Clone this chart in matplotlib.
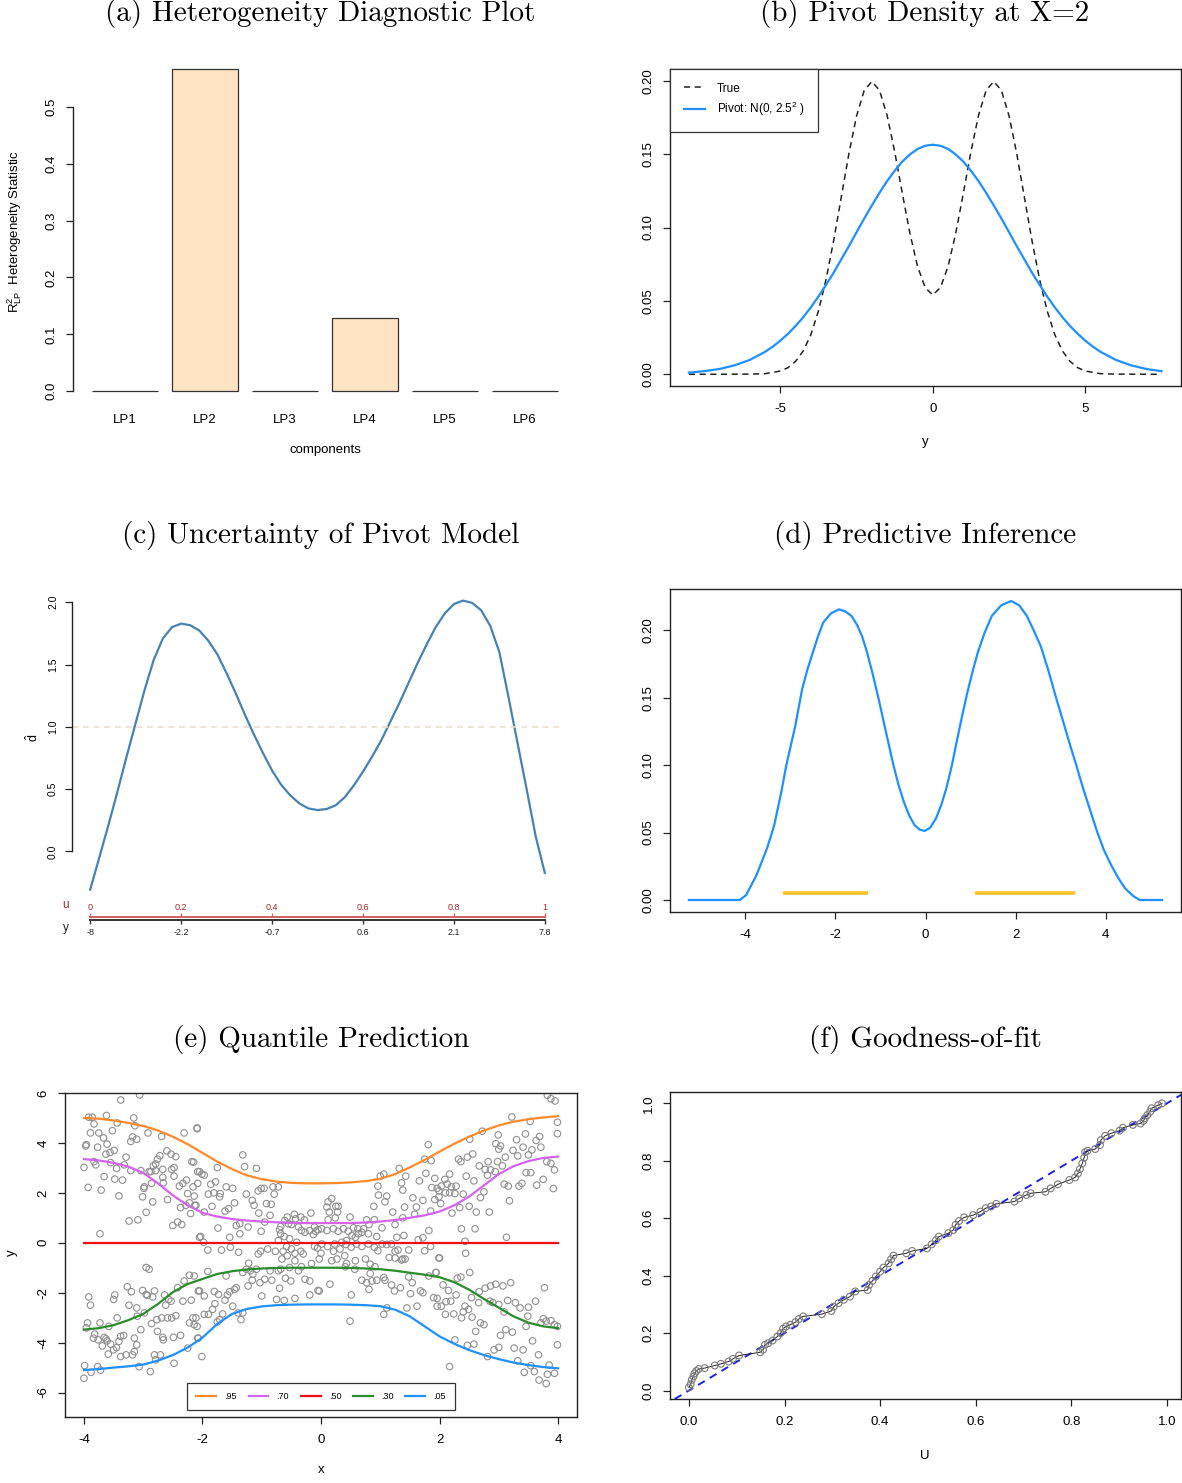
import numpy as np
import matplotlib
matplotlib.use('Agg')
import matplotlib.pyplot as plt

plt.rcParams['font.family'] = ['Liberation Sans', 'DejaVu Sans']
plt.rcParams['mathtext.fontset'] = 'custom'
plt.rcParams['mathtext.rm'] = 'Liberation Sans'
plt.rcParams['mathtext.it'] = 'Liberation Sans:italic'
plt.rcParams['mathtext.bf'] = 'Liberation Sans:bold'
plt.rcParams['axes.unicode_minus'] = False

# ---------------- data ----------------
# (a) heterogeneity statistic
a_labels = ['LP1', 'LP2', 'LP3', 'LP4', 'LP5', 'LP6']
a_values = [0.0, 0.567, 0.0, 0.1285, 0.0, 0.0]

# (b) true density and pivot density
b_x = [-8, -7, -6, -5.5, -5, -4.75, -4.5, -4.25, -4, -3.75, -3.5, -3.25, -3, -2.75, -2.5, -2.25,
       -2, -1.75, -1.5, -1.25, -1, -0.75, -0.5, -0.25, 0, 0.25, 0.5, 0.75, 1, 1.25, 1.5, 1.75,
       2, 2.25, 2.5, 2.75, 3, 3.25, 3.5, 3.75, 4, 4.25, 4.5, 4.75, 5, 5.5, 6, 7, 7.5]
b_true = [0.0, 0.0, 0.0001, 0.0004, 0.0022, 0.0045, 0.0088, 0.0159, 0.0270, 0.0432, 0.0648, 0.0913,
          0.1210, 0.1506, 0.1761, 0.1934, 0.1995, 0.1935, 0.1765, 0.1516, 0.1232, 0.0959, 0.0735,
          0.0590, 0.0540, 0.0590, 0.0735, 0.0959, 0.1232, 0.1516, 0.1765, 0.1935, 0.1995, 0.1934,
          0.1761, 0.1506, 0.1210, 0.0913, 0.0648, 0.0432, 0.0270, 0.0159, 0.0088, 0.0045, 0.0022,
          0.0004, 0.0001, 0.0, 0.0]
b_px = [-8, -7.5, -7, -6.5, -6, -5.5, -5.25, -5, -4.75, -4.5, -4.25, -4, -3.75, -3.5, -3.25, -3,
        -2.75, -2.5, -2.25, -2, -1.75, -1.5, -1.25, -1, -0.75, -0.5, -0.25, 0, 0.25, 0.5, 0.75, 1,
        1.25, 1.5, 1.75, 2, 2.25, 2.5, 2.75, 3, 3.25, 3.5, 3.75, 4, 4.25, 4.5, 4.75, 5, 5.25, 5.5,
        6, 6.5, 7, 7.5]
b_pivot = [0.0011, 0.0021, 0.0036, 0.0061, 0.0098, 0.0153, 0.0188, 0.0229, 0.0276, 0.0329, 0.0389,
           0.0456, 0.0530, 0.0610, 0.0693, 0.0784, 0.0874, 0.0968, 0.1061, 0.1150, 0.1236, 0.1316,
           0.1387, 0.1449, 0.1498, 0.1535, 0.1557, 0.1564, 0.1557, 0.1535, 0.1498, 0.1449, 0.1387,
           0.1316, 0.1236, 0.1150, 0.1061, 0.0968, 0.0874, 0.0784, 0.0693, 0.0610, 0.0530, 0.0456,
           0.0389, 0.0329, 0.0276, 0.0229, 0.0188, 0.0153, 0.0098, 0.0061, 0.0036, 0.0021]

# (c) comparison density d(u)
c_u = [0.00, 0.02, 0.04, 0.06, 0.08, 0.10, 0.12, 0.14, 0.16, 0.18, 0.20, 0.22, 0.24, 0.26, 0.28,
       0.30, 0.32, 0.34, 0.36, 0.38, 0.40, 0.42, 0.44, 0.46, 0.48, 0.50, 0.52, 0.54, 0.56, 0.58,
       0.60, 0.62, 0.64, 0.66, 0.68, 0.70, 0.72, 0.74, 0.76, 0.78, 0.80, 0.82, 0.84, 0.86, 0.88,
       0.90, 0.92, 0.94, 0.96, 0.98, 1.00]
c_d = [-0.307, -0.05, 0.21, 0.48, 0.76, 1.03, 1.30, 1.54, 1.71, 1.80, 1.828, 1.815, 1.773, 1.69,
       1.58, 1.43, 1.27, 1.10, 0.94, 0.79, 0.65, 0.535, 0.45, 0.385, 0.345, 0.332, 0.34, 0.37,
       0.435, 0.53, 0.64, 0.76, 0.89, 1.04, 1.19, 1.35, 1.51, 1.66, 1.80, 1.91, 1.985, 2.013,
       1.995, 1.935, 1.81, 1.60, 1.24, 0.87, 0.50, 0.12, -0.173]
c_u_ticks = [0, 0.2, 0.4, 0.6, 0.8, 1]
c_u_labels = ['0', '0.2', '0.4', '0.6', '0.8', '1']
c_y_labels = ['-8', '-2.2', '-0.7', '0.6', '2.1', '7.8']

# (d) predictive density and intervals
d_x = [-5.25, -4.12, -3.98, -3.75, -3.52, -3.36, -3.20, -3.09, -2.89, -2.74, -2.62, -2.50, -2.38,
       -2.27, -2.10, -1.92, -1.78, -1.64, -1.52, -1.41, -1.30, -1.18, -1.06, -0.94, -0.82, -0.71,
       -0.60, -0.48, -0.36, -0.24, -0.13, -0.02, 0.10, 0.23, 0.35, 0.46, 0.58, 0.69, 0.81, 0.93,
       1.05, 1.16, 1.31, 1.47, 1.68, 1.90, 2.08, 2.25, 2.40, 2.56, 2.72, 2.88, 3.04, 3.19, 3.35,
       3.50, 3.66, 3.81, 3.96, 4.12, 4.28, 4.43, 4.60, 4.75, 5.25]
d_y = [0.0, 0.0, 0.0037, 0.0185, 0.038, 0.055, 0.080, 0.0998, 0.129, 0.156, 0.171, 0.1835, 0.196,
       0.2057, 0.2125, 0.2155, 0.2140, 0.2106, 0.204, 0.1958, 0.184, 0.1687, 0.152, 0.134, 0.116,
       0.0998, 0.0855, 0.0727, 0.0625, 0.0554, 0.0522, 0.0512, 0.0535, 0.0603, 0.0705, 0.0825,
       0.0990, 0.117, 0.136, 0.154, 0.170, 0.1835, 0.198, 0.2106, 0.2185, 0.2217, 0.2185, 0.2106,
       0.200, 0.188, 0.171, 0.152, 0.134, 0.117, 0.0995, 0.0825, 0.066, 0.0505, 0.037, 0.0259,
       0.0162, 0.0086, 0.0032, 0.0, 0.0]
d_int_lo = [-3.16, 1.10]
d_int_hi = [-1.28, 3.32]
d_int_level = 0.005

# (e) quantile curves
e_grid = [-4, -3.75, -3.5, -3.25, -3, -2.75, -2.5, -2.25, -2, -1.75, -1.5, -1.25, -1, -0.75, -0.5,
          -0.25, 0, 0.25, 0.5, 0.75, 1, 1.25, 1.5, 1.75, 2, 2.25, 2.5, 2.75, 3, 3.25, 3.5, 3.75, 4]
e_q95 = [5.0, 4.97, 4.9, 4.8, 4.68, 4.5, 4.25, 3.95, 3.6, 3.25, 2.95, 2.7, 2.55, 2.45, 2.4, 2.38,
         2.38, 2.39, 2.42, 2.47, 2.56, 2.75, 3.02, 3.32, 3.65, 3.97, 4.25, 4.5, 4.7, 4.85, 4.95,
         5.02, 5.07]
e_q70 = [3.35, 3.3, 3.2, 3.05, 2.8, 2.38, 1.9, 1.5, 1.2, 1.05, 0.95, 0.89, 0.85, 0.82, 0.8, 0.79,
         0.79, 0.79, 0.79, 0.81, 0.85, 0.91, 1.0, 1.1, 1.25, 1.5, 1.85, 2.3, 2.75, 3.07, 3.27, 3.4,
         3.45]
e_q50 = [0.0] * 33
e_q30 = [-3.48, -3.42, -3.3, -3.1, -2.85, -2.45, -1.98, -1.65, -1.45, -1.25, -1.14, -1.07, -1.03,
         -1.01, -1.0, -1.0, -1.0, -1.0, -1.01, -1.03, -1.06, -1.12, -1.2, -1.28, -1.38, -1.58,
         -1.88, -2.25, -2.6, -2.95, -3.2, -3.35, -3.42]
e_q05 = [-5.1, -5.06, -5.0, -4.95, -4.88, -4.72, -4.5, -4.2, -3.8, -3.25, -2.85, -2.65, -2.55,
         -2.5, -2.48, -2.47, -2.47, -2.47, -2.48, -2.5, -2.54, -2.68, -2.95, -3.35, -3.75, -4.05,
         -4.3, -4.5, -4.66, -4.8, -4.9, -4.98, -5.03]
e_levels = ['.95', '.70', '.50', '.30', '.05']

e_pts_a = [(-3.38,5.72),(-3.06,5.92),(-3.92,5.03),(-3.86,5.03),(-3.62,5.10),(-3.16,5.00),(-3.83,4.76),
 (-3.44,4.80),(-3.14,4.69),(-3.89,4.40),(-3.75,4.40),(-3.52,4.49),(-3.67,4.20),(-3.18,4.24),(-3.21,4.06),
 (-3.11,4.15),(-2.92,4.40),(-2.69,4.26),(-2.31,4.40),(-2.09,4.57),(-3.61,3.95),(-3.97,3.88),(-3.96,3.93),
 (-3.77,3.83),(-3.49,3.70),(-3.56,3.62),(-3.63,3.55),(-3.29,3.43),(-2.60,3.68),(-2.53,3.55),(-2.45,3.45),
 (-2.72,3.49),(-2.76,3.35),(-2.79,3.16),(-2.83,3.08),(-2.90,2.85),(-2.87,2.85),(-3.04,2.89),(-2.79,2.89),
 (-2.67,2.94),(-2.18,3.25),(-2.15,3.23),(-3.83,3.25),(-3.80,3.12),(-4.00,3.02),(-3.55,3.21),(-3.32,3.12),
 (-3.45,2.98),(-3.21,2.89),(-2.48,3.01),(-2.52,2.94),(-2.48,2.67),(-2.67,2.62),(-2.66,2.40),(-2.86,2.38),
 (-2.27,2.51),(-2.33,2.38),(-2.39,2.27),(-2.16,2.24),(-2.08,2.85),(-3.66,2.65),(-3.48,2.55),(-3.35,2.51),
 (-2.98,2.24),(-2.99,2.18),(-3.93,2.22),(-3.71,2.11),(-3.41,1.88),(-3.01,1.84),(-2.84,1.64),(-2.59,1.73),
 (-2.14,1.87),(-2.25,1.97),(-2.22,1.60),(-2.28,1.50),(-2.37,1.41),(-2.20,1.17),(-2.13,1.50),(-2.95,1.22),
 (-3.24,0.87),(-3.09,0.92),(-2.50,0.69),(-2.42,0.83),(-2.35,0.73),(-3.73,0.36),(-2.05,0.22),
 (-2.95,-0.99),(-2.90,-1.06),(-3.27,-1.76),(-3.20,-1.96),(-3.01,-1.91),(-2.95,-2.07),(-2.93,-2.11),
 (-2.81,-1.93),(-2.84,-2.17),(-3.48,-2.09),(-3.50,-2.27),(-3.92,-2.17),(-3.89,-2.50),(-3.24,-2.50),
 (-3.11,-2.61),(-2.62,-2.50),(-2.57,-2.27),(-2.53,-2.34),(-2.33,-2.34),(-2.19,-2.30),(-2.42,-1.80),
 (-2.31,-1.53),(-2.22,-1.30),(-2.14,-1.33),(-2.07,-1.93),(-2.64,-2.09),(-3.94,-3.21),(-3.96,-3.41),
 (-3.73,-3.21),(-3.58,-3.35),(-3.44,-3.01),(-3.10,-2.94),(-2.98,-2.81),(-3.04,-3.48),(-2.86,-3.24),
 (-2.77,-3.08),(-2.69,-3.01),(-2.59,-3.01),(-2.52,-3.01),(-2.45,-2.92),(-2.16,-3.01),(-2.14,-3.28),
 (-2.22,-3.21),(-3.82,-3.66),(-3.84,-3.82),(-3.76,-3.89),(-3.66,-3.79),(-3.63,-3.85),(-3.61,-3.93),
 (-3.69,-4.13),(-3.55,-4.06),(-3.45,-4.20),(-3.38,-3.75),(-3.33,-3.71),(-3.41,-3.95),(-3.15,-3.82),
 (-3.11,-4.09),(-3.15,-4.36),(-3.18,-4.49),(-3.38,-4.56),(-3.29,-4.49),(-3.59,-4.46),(-3.50,-4.29),
 (-2.76,-3.55),(-2.67,-3.79),(-2.66,-3.89),(-2.49,-3.79),(-2.37,-3.71),(-2.25,-4.22),(-2.08,-3.82),
 (-2.81,-4.49),(-2.71,-4.49),(-2.79,-4.69),(-3.99,-4.92),(-3.88,-5.19),(-3.77,-4.96),(-3.72,-5.10),
 (-3.07,-4.96),(-2.88,-5.16),(-4.00,-5.43),(-2.48,-4.83)]
e_pts_b = [(-2.09,4.60),(-1.32,3.52),(-1.29,3.05),(-1.09,2.98),(-1.75,3.01),(-2.05,2.85),(-2.01,2.75),
 (-1.97,2.71),(-2.08,2.38),(-1.86,2.34),(-1.78,2.44),(-1.60,2.24),(-1.49,2.18),(-1.90,1.95),(-1.81,2.00),
 (-1.70,1.97),(-1.71,1.84),(-1.26,1.95),(-1.06,2.08),(-1.01,2.18),(-0.96,2.18),(-0.81,2.24),(-0.72,2.24),
 (-0.79,1.95),(-1.46,1.60),(-1.16,1.70),(-1.13,1.50),(-0.92,1.57),(-0.84,1.54),(-2.11,1.50),(-1.97,1.23),
 (-1.84,1.46),(-1.62,1.27),(-1.56,1.37),(-1.05,1.19),(-0.86,1.10),(-0.95,0.83),(-1.37,0.76),(-1.43,0.69),
 (-1.23,0.63),(-1.74,0.59),(-1.37,0.36),(-1.54,0.22),(-1.01,0.46),(-0.68,0.65),(-0.70,0.52),(-0.61,0.89),
 (-0.57,1.03),(-0.45,1.14),(-0.34,1.03),(-0.28,0.92),(-0.17,1.19),(-0.43,0.96),(-0.55,0.76),(-0.50,0.73),
 (-0.38,0.63),(-0.33,0.49),(-0.27,0.42),(-0.19,0.49),(-0.11,0.63),(-0.09,0.46),(-0.13,0.33),(-0.68,0.36),
 (-0.62,0.25),(-0.72,0.09),(-0.53,0.16),(-0.41,0.02),(-2.03,0.25),(-1.98,0.02),(-1.91,-0.29),(-1.68,-0.29),
 (-1.53,-0.18),(-1.39,-0.38),(-1.06,-0.45),(-1.02,-0.34),(-0.90,-0.25),(-0.77,-0.34),(-0.64,-0.34),
 (-0.58,-0.15),(-0.50,-0.25),(-0.44,-0.42),(-0.34,-0.34),(-0.30,-0.45),(-0.66,-0.65),(-0.57,-0.52),
 (-0.44,-0.72),(-0.33,-0.96),(-0.16,-0.83),(-0.03,-0.65),(-0.11,-0.15),(-1.22,-0.82),(-1.26,-1.06),
 (-1.91,-1.15),(-1.60,-1.33),(-1.32,-1.19),(-1.19,-1.12),(-1.15,-1.26),(-1.09,-1.06),(-1.16,-1.50),
 (-1.23,-1.73),(-1.03,-1.60),(-0.95,-1.46),(-0.86,-1.12),(-0.83,-1.50),(-0.72,-1.12),(-0.68,-1.06),
 (-0.60,-1.42),(-0.51,-1.53),(-0.53,-0.99),(-0.38,-1.12),(-0.27,-1.46),(-0.19,-1.53),(-0.70,-1.82),
 (-1.00,-2.13),(-0.75,-2.27),(-0.62,-2.31),(-0.44,-2.23),(-0.19,-2.09),(-0.05,-1.91),(-2.05,-1.93),
 (-1.97,-2.13),(-1.80,-1.95),(-1.73,-2.07),(-1.58,-2.09),(-1.54,-1.96),(-1.46,-1.87),(-1.43,-1.80),
 (-1.62,-2.30),(-1.79,-2.44),(-1.83,-2.67),(-1.49,-2.54),(-1.97,-2.87),(-1.90,-2.87),(-2.11,-3.01),
 (-1.66,-2.85),(-1.71,-3.08),(-1.75,-3.17),(-1.40,-2.81),(-1.32,-2.81),(-1.35,-3.08),(-2.09,-3.35),
 (-2.07,-3.82),(-2.01,-4.56)]
e_pts_c = [(1.81,3.93),(1.75,3.35),(1.86,3.29),(1.32,2.98),(1.00,2.67),(1.06,2.75),(1.43,2.67),(1.77,2.78),
 (1.92,2.58),(1.36,2.40),(0.96,2.27),(1.38,2.11),(1.66,2.48),(1.87,2.21),(1.99,2.08),(0.97,1.91),(1.11,1.87),
 (1.08,1.64),(1.55,1.80),(1.72,1.70),(1.92,1.73),(1.41,1.43),(1.61,1.43),(0.89,1.46),(1.21,1.23),(1.38,1.00),
 (1.58,1.14),(1.85,1.27),(0.12,1.64),(0.18,1.77),(0.10,1.43),(0.14,1.23),(0.25,1.46),(0.29,1.46),(0.28,1.23),
 (0.49,1.03),(0.12,0.92),(0.24,1.00),(0.77,0.92),(0.81,0.73),(0.90,0.92),(1.03,0.60),(1.25,0.73),(1.40,0.29),
 (1.82,0.49),(-0.05,0.52),(0.01,0.56),(0.10,0.49),(0.21,0.56),(0.29,0.46),(0.38,0.56),(0.46,0.46),(0.55,0.60),
 (0.62,0.56),(0.69,0.42),(0.52,0.29),(0.58,0.22),(0.63,0.36),(0.72,0.56),(0.80,0.36),(0.94,0.25),(1.28,0.22),
 (0.43,0.09),(0.35,0.02),(0.01,-0.05),(-0.06,-0.21),(0.11,-0.15),(0.23,-0.05),(0.32,-0.25),(0.42,-0.07),
 (0.51,-0.18),(0.60,-0.05),(0.69,-0.15),(0.80,-0.05),(0.90,-0.18),(0.96,-0.32),(1.03,-0.05),(1.11,-0.07),
 (1.19,-0.05),(1.25,-0.34),(1.30,-0.29),(1.38,-0.65),(1.48,-0.29),(1.64,0.12),(1.72,0.20),(1.75,-0.32),
 (1.85,-0.15),(1.99,-0.61),(0.00,-0.42),(0.21,-0.34),(0.18,-0.72),(0.27,-0.65),(0.40,-0.52),(0.43,-0.83),
 (0.58,-0.72),(0.75,-0.65),(0.83,-0.86),(1.15,-0.59),(1.25,-0.61),(1.36,-0.69),(1.42,-0.65),(0.57,-1.06),
 (0.41,-0.96),(0.91,-0.96),(0.83,-1.23),(0.69,-1.50),(0.77,-1.60),(0.86,-1.53),(0.94,-1.50),(1.06,-1.39),
 (1.08,-1.50),(0.81,-1.87),(1.19,-1.69),(1.24,-1.93),(1.34,-1.80),(1.48,-1.37),(1.54,-1.60),(1.68,-1.93),
 (1.72,-2.00),(1.90,-2.20),(1.82,-1.33),(1.94,-1.19),(0.15,-1.66),(-0.03,-1.93),(0.51,-2.09),(1.51,-2.04),
 (1.45,-2.61),(1.62,-2.54),(1.96,-2.54),(1.11,-2.61),(1.06,-2.87),(0.49,-3.14)]
e_pts_d = [(3.82,5.91),(3.88,5.77),(3.95,5.68),(3.22,5.04),(3.53,4.86),(3.99,4.83),(2.72,4.47),(3.99,4.37),
 (2.51,4.15),(2.99,4.32),(3.45,4.36),(3.69,4.26),(3.63,4.10),(2.95,3.97),(3.03,3.88),(3.30,4.13),(3.41,3.83),
 (3.24,3.70),(3.56,3.72),(3.71,3.83),(3.32,3.48),(3.50,3.52),(3.11,3.43),(2.56,3.56),(2.47,3.43),(2.32,3.35),
 (2.36,3.25),(3.00,3.75),(2.98,3.25),(3.06,3.08),(2.82,3.25),(2.67,3.08),(2.77,2.94),(2.86,2.92),(2.94,2.85),
 (2.81,2.71),(2.45,2.67),(2.17,2.75),(2.09,2.54),(2.03,2.27),(1.96,2.18),(2.13,2.35),(2.20,2.24),(2.28,2.27),
 (2.10,2.00),(2.17,2.00),(2.26,1.97),(1.99,1.84),(2.02,1.57),(2.40,1.95),(2.58,2.48),(2.75,2.04),(2.69,1.81),
 (2.50,1.46),(2.21,1.19),(2.34,1.41),(2.62,1.23),(2.84,1.23),(3.09,2.35),(3.16,2.27),(3.18,1.68),(3.34,2.27),
 (3.39,2.38),(3.46,2.81),(3.54,2.81),(3.64,2.31),(3.75,2.54),(3.81,3.25),(3.88,3.18),(3.94,2.92),(3.92,2.17),
 (2.37,0.56),(2.60,0.56),(3.13,0.22),(2.43,0.06),(2.44,-0.42),(2.00,-0.61),(1.94,-1.19),(2.06,-1.69),
 (2.30,-1.42),(2.36,-1.37),(2.51,-1.19),(2.15,-1.91),(1.96,-2.23),(2.03,-2.54),(2.11,-2.36),(2.19,-2.34),
 (2.28,-2.09),(2.43,-2.54),(2.49,-2.67),(2.40,-2.77),(2.24,-2.85),(2.10,-2.87),(2.37,-3.01),(2.55,-2.98),
 (2.66,-2.40),(2.54,-2.20),(2.67,-1.96),(2.77,-1.82),(2.86,-1.73),(2.95,-1.66),(3.07,-1.73),(3.20,-1.60),
 (2.85,-2.34),(2.90,-2.40),(3.00,-2.47),(3.15,-2.31),(3.28,-2.40),(3.36,-2.61),(3.50,-2.58),(3.62,-2.34),
 (3.77,-1.80),(3.09,-2.77),(3.49,-2.94),(3.75,-3.04),(3.80,-3.14),(3.88,-3.12),(3.94,-3.28),(3.99,-3.35),
 (3.71,-3.21),(3.46,-3.35),(2.69,-3.21),(2.75,-3.28),(2.61,-3.55),(3.12,-3.48),(3.23,-3.58),(3.03,-3.71),
 (3.57,-3.93),(2.47,-4.11),(2.58,-4.06),(2.26,-3.89),(2.92,-4.29),(3.00,-4.19),(3.26,-4.22),(3.41,-4.29),
 (3.99,-4.09),(3.67,-4.49),(2.81,-4.56),(3.32,-4.73),(3.54,-4.92),(3.60,-5.16),(3.43,-5.19),(3.85,-4.90),
 (3.82,-5.27),(3.94,-5.23),(3.68,-5.50),(3.80,-5.64),(2.17,-4.96)]

# (f) goodness of fit
f_u = [0.0, 0.0037, 0.0059, 0.0096, 0.0118, 0.0155, 0.0206, 0.033, 0.054, 0.067, 0.083, 0.092, 0.105,
       0.149, 0.155, 0.159, 0.166, 0.175, 0.185, 0.192, 0.197, 0.203, 0.212, 0.223, 0.230, 0.239, 0.278,
       0.298, 0.303, 0.313, 0.324, 0.337, 0.348, 0.374, 0.377, 0.384, 0.391, 0.400, 0.407, 0.418, 0.423,
       0.428, 0.455, 0.467, 0.498, 0.508, 0.517, 0.523, 0.543, 0.553, 0.558, 0.565, 0.576, 0.595, 0.610,
       0.621, 0.632, 0.643, 0.681, 0.691, 0.706, 0.715, 0.746, 0.757, 0.772, 0.796, 0.808, 0.814, 0.818,
       0.823, 0.827, 0.829, 0.834, 0.850, 0.860, 0.862, 0.871, 0.884, 0.901, 0.908, 0.929, 0.945, 0.951,
       0.954, 0.959, 0.965, 0.968, 0.982, 0.990]
f_q = [0.0104, 0.022, 0.037, 0.049, 0.060, 0.068, 0.075, 0.078, 0.087, 0.093, 0.101, 0.110, 0.122,
       0.133, 0.142, 0.159, 0.165, 0.174, 0.188, 0.200, 0.215, 0.223, 0.229, 0.238, 0.249, 0.258, 0.266,
       0.277, 0.292, 0.304, 0.316, 0.327, 0.345, 0.350, 0.368, 0.382, 0.397, 0.414, 0.428, 0.443, 0.457,
       0.470, 0.478, 0.486, 0.495, 0.509, 0.524, 0.536, 0.548, 0.559, 0.577, 0.590, 0.603, 0.611, 0.623,
       0.635, 0.641, 0.650, 0.658, 0.669, 0.681, 0.687, 0.692, 0.704, 0.718, 0.733, 0.742, 0.756, 0.771,
       0.791, 0.811, 0.830, 0.835, 0.841, 0.855, 0.872, 0.887, 0.896, 0.905, 0.915, 0.925, 0.930, 0.939,
       0.948, 0.959, 0.971, 0.983, 0.994, 1.0]

# ---------------- layout helpers ----------------
W, H = 1182, 1483
fig = plt.figure(figsize=(W / 100, H / 100), dpi=100)
AXC = '#222222'
TFS = 9.5
TITLE_FONT = ['cmr10', 'DejaVu Serif']


def pos(l, t, r, b):
    return [l / W, 1 - b / H, (r - l) / W, (b - t) / H]


def style(ax, box=True, fs=TFS):
    for s in ax.spines.values():
        s.set_linewidth(1.0)
        s.set_color(AXC)
        s.set_visible(box)
    ax.tick_params(length=5, width=0.9, color=AXC, labelsize=fs)
    ax.tick_params(axis='x', pad=7)
    ax.tick_params(axis='y', pad=6)


def yticks_rot(ax, ticks, labels):
    ax.set_yticks(ticks, labels, rotation=90, va='center')


def ftext(x, y, s, **kw):
    fig.text(x / W, 1 - y / H, s, ha='center', va='center', **kw)


def title(x, y, s):
    ftext(x, y, s, family=TITLE_FONT, fontsize=21)


# ---------------- (a) ----------------
axa = fig.add_axes(pos(73, 56, 577, 404))
style(axa, box=False)
xa = 0.7 + 1.2 * np.arange(len(a_values))
axa.bar(xa, a_values, width=1.0, color='#FFE4C4', edgecolor='#333333', linewidth=0.9)
axa.set_xlim(-0.08, 7.48)
axa.set_ylim(-0.0227, 0.5897)
axa.spines['left'].set_visible(True)
axa.spines['left'].set_bounds(0, 0.5)
yticks_rot(axa, [0, 0.1, 0.2, 0.3, 0.4, 0.5], ['0.0', '0.1', '0.2', '0.3', '0.4', '0.5'])
axa.set_xticks(xa, a_labels)
axa.tick_params(axis='x', length=0, pad=7)
ftext(15, 232, r'$\mathrm{R}^{2}_{\mathrm{LP}}$  Heterogeneity Statistic', rotation=90, fontsize=9.5)
ftext(325, 450, 'components', fontsize=9.5)
title(320, 14, '(a) Heterogeneity Diagnostic Plot')

# ---------------- (b) ----------------
axb = fig.add_axes(pos(670, 69, 1181, 386))
style(axb)
axb.plot(b_x, b_true, color='#222222', ls=(0, (4, 3)), lw=1.1, label='True')
axb.plot(b_px, b_pivot, color='#1E90FF', lw=1.6, label=r'Pivot: N(0, 2.5$^{2}$ )')
axb.set_xlim(-8.62, 8.14)
axb.set_ylim(-0.008, 0.208)
axb.set_xticks([-5, 0, 5], ['-5', '0', '5'])
yticks_rot(axb, [0, 0.05, 0.10, 0.15, 0.20], ['0.00', '0.05', '0.10', '0.15', '0.20'])
leg = axb.legend(loc='upper left', borderaxespad=0, fontsize=8.5, handlelength=1.8, fancybox=False,
                 framealpha=1, edgecolor='#333333', borderpad=1.15, labelspacing=0.45, handletextpad=1.0)
leg.get_frame().set_linewidth(0.9)
ftext(925, 442, 'y', fontsize=9.5)
title(925, 14, '(b) Pivot Density at X=2')

# ---------------- (c) ----------------
axc = fig.add_axes(pos(72, 589, 563, 901))
style(axc, box=False, fs=7.5)
axc.plot(c_u, c_d, color='#4682B4', lw=1.6)
axc.axhline(1.0, color='#EBDCC8', ls=(0, (4, 3)), lw=1.1)
axc.set_xlim(-0.04, 1.04)
axc.set_ylim(-0.398, 2.106)
axc.spines['left'].set_visible(True)
axc.spines['left'].set_bounds(0, 2)
axc.set_xticks([])
yticks_rot(axc, [0, 0.5, 1.0, 1.5, 2.0], ['0.0', '0.5', '1.0', '1.5', '2.0'])
axc.tick_params(axis='y', pad=5)
ftext(33, 738, r'$\hat{\mathrm{d}}$', rotation=90, fontsize=9)


def thin_axis(ypix, side, color, lcolor, labels, pad):
    ax = fig.add_axes([72 / W, 1 - ypix / H, (563 - 72) / W, 0.00005])
    ax.set_xlim(-0.04, 1.04)
    ax.patch.set_visible(False)
    for s in ax.spines.values():
        s.set_visible(False)
    ax.spines[side].set_visible(True)
    ax.spines[side].set_color(color)
    ax.spines[side].set_linewidth(1.4)
    ax.spines[side].set_bounds(0, 1)
    ax.set_yticks([])
    ax.xaxis.set_ticks_position(side)
    ax.set_xticks(c_u_ticks, labels)
    ax.tick_params(axis='x', direction='out', length=3, width=1.0, color=color, labelcolor=lcolor,
                   labelsize=6.5, pad=pad)
    return ax


thin_axis(917, 'top', '#D06060', '#B22222', c_u_labels, 0.8)
thin_axis(920, 'bottom', '#333333', '#222222', c_y_labels, 2.5)
ftext(66, 905, 'u', color='#B22222', fontsize=8.5)
ftext(66, 928, 'y', color='#222222', fontsize=8.5)
title(321, 535, '(c) Uncertainty of Pivot Model')

# ---------------- (d) ----------------
axd = fig.add_axes(pos(670, 589, 1181, 912))
style(axd)
axd.plot(d_x, d_y, color='#1E90FF', lw=1.6)
axd.hlines([d_int_level] * len(d_int_lo), d_int_lo, d_int_hi, color='#FFC125', lw=2.6)
axd.set_xlim(-5.67, 5.67)
axd.set_ylim(-0.0089, 0.2306)
axd.set_xticks([-4, -2, 0, 2, 4], ['-4', '-2', '0', '2', '4'])
yticks_rot(axd, [0, 0.05, 0.10, 0.15, 0.20], ['0.00', '0.05', '0.10', '0.15', '0.20'])
title(925, 535, '(d) Predictive Inference')

# ---------------- (e) ----------------
axe = fig.add_axes(pos(65, 1093, 577, 1417))
style(axe)
pts = np.array(e_pts_a + e_pts_b + e_pts_c + e_pts_d)
axe.scatter(pts[:, 0], pts[:, 1], s=22, facecolors='none', edgecolors='#8F8F8F', linewidths=0.8, zorder=1)
q_colors = ['#FF8A2B', '#D463EE', '#EE1010', '#2A8C2A', '#1E90FF']
for q, c, lab in zip([e_q95, e_q70, e_q50, e_q30, e_q05], q_colors, e_levels):
    axe.plot(e_grid, q, color=c, lw=1.6, label=lab, zorder=2)
axe.set_xlim(-4.32, 4.32)
axe.set_ylim(-6.98, 5.98)
axe.set_xticks([-4, -2, 0, 2, 4], ['-4', '-2', '0', '2', '4'])
yticks_rot(axe, [-6, -4, -2, 0, 2, 4, 6], ['-6', '-4', '-2', '0', '2', '4', '6'])
lege = axe.legend(loc='lower center', bbox_to_anchor=(0.5, 0.0216), borderaxespad=0, ncol=5,
                  fontsize=6.5, handlelength=2.2, columnspacing=1.3, handletextpad=0.9, fancybox=False,
                  framealpha=1, edgecolor='#333333', borderpad=1.0)
lege.get_frame().set_linewidth(0.9)
ftext(12, 1253, 'y', rotation=90, fontsize=9.5)
ftext(321, 1470, 'x', fontsize=9.5)
title(321, 1039, '(e) Quantile Prediction')

# ---------------- (f) ----------------
axf = fig.add_axes(pos(670, 1092, 1181, 1399))
style(axf)
axf.axline((0, 0), slope=1, color='#1F1FEE', ls=(0, (4, 3)), lw=1.4, zorder=1)
axf.plot(f_u, f_q, color='#222222', lw=0.7, zorder=2)
axf.scatter(f_u, f_q, s=24, facecolors='none', edgecolors='#7A7A7A', linewidths=0.8, zorder=3)
axf.set_xlim(-0.0396, 1.0296)
axf.set_ylim(-0.0296, 1.0396)
ticks = [0, 0.2, 0.4, 0.6, 0.8, 1.0]
tl = ['0.0', '0.2', '0.4', '0.6', '0.8', '1.0']
axf.set_xticks(ticks, tl)
yticks_rot(axf, ticks, tl)
ftext(925, 1456, 'U', fontsize=9.5)
title(925, 1039, '(f) Goodness-of-fit')

fig.savefig('out.png', dpi=100)
